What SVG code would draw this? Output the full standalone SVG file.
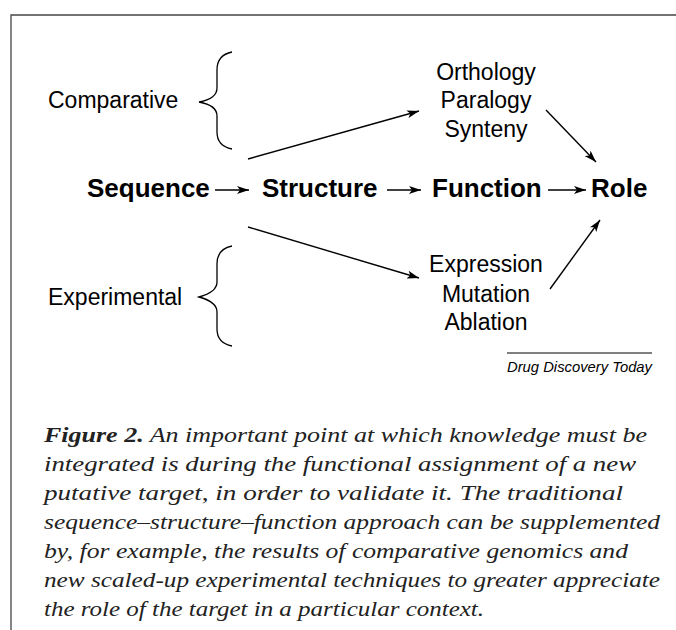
<svg xmlns="http://www.w3.org/2000/svg" width="676" height="630" viewBox="0 0 676 630">
<style>
.lbl{font-family:"Liberation Sans",Arial,sans-serif;font-size:23px;fill:#000}
.main{font-family:"Liberation Sans",Arial,sans-serif;font-size:26px;font-weight:bold;fill:#000}
.ln{stroke:#000;stroke-width:1.4;fill:none}
.br{stroke:#000;stroke-width:1.3;fill:none}
.cap{font-family:"Liberation Serif","Times New Roman",serif;font-size:21px;font-style:italic;fill:#222}
.src{font-family:"Liberation Sans",Arial,sans-serif;font-size:15.5px;font-style:italic;fill:#000}
</style>
<defs>
<marker id="ah" viewBox="0 0 12 8" refX="12" refY="4" markerWidth="12" markerHeight="8" markerUnits="userSpaceOnUse" orient="auto">
<path d="M0,0 L12,4 L0,8 L3,4 Z" fill="#000"/>
</marker>
</defs>
<rect width="676" height="630" fill="#fff"/>
<path d="M11,630 L11,15 L676,15" stroke="#444" stroke-width="1.3" fill="none"/>

<g id="comparative">
<text class="lbl" x="48" y="108">Comparative</text>
<path class="br" d="M232,52 C222,54 217,60 217,70 L217,88 C217,96 210,100 199,102 C210,104 217,108 217,116 L217,132 C217,142 222,147 232,149"/>
</g>
<g id="experimental">
<text class="lbl" x="48" y="305">Experimental</text>
<path class="br" d="M232,246 C222,248 217,254 217,264 L217,282 C217,290 210,294 199,297 C210,300 217,304 217,312 L217,329 C217,339 222,344 232,346"/>
</g>
<g id="sequence"><text class="main" x="87" y="197">Sequence</text></g>
<g id="structure"><text class="main" x="262" y="197">Structure</text></g>
<g id="function"><text class="main" x="432" y="197">Function</text></g>
<g id="role"><text class="main" x="591" y="197">Role</text></g>
<g id="comparative-methods">
<text class="lbl" x="486" y="80" text-anchor="middle">Orthology</text>
<text class="lbl" x="486" y="108" text-anchor="middle">Paralogy</text>
<text class="lbl" x="486" y="137" text-anchor="middle">Synteny</text>
</g>
<g id="experimental-methods">
<text class="lbl" x="486" y="272" text-anchor="middle">Expression</text>
<text class="lbl" x="486" y="302" text-anchor="middle">Mutation</text>
<text class="lbl" x="486" y="330" text-anchor="middle">Ablation</text>
</g>

<g id="connectors">
<line class="ln" x1="215" y1="190" x2="249" y2="190" marker-end="url(#ah)"/>
<line class="ln" x1="387" y1="190" x2="421" y2="190" marker-end="url(#ah)"/>
<line class="ln" x1="548" y1="190" x2="586" y2="190" marker-end="url(#ah)"/>
<line class="ln" x1="248" y1="159" x2="419" y2="111" marker-end="url(#ah)"/>
<line class="ln" x1="248" y1="227" x2="419" y2="278" marker-end="url(#ah)"/>
<line class="ln" x1="546" y1="110" x2="596" y2="162" marker-end="url(#ah)"/>
<line class="ln" x1="550" y1="289" x2="600" y2="220" marker-end="url(#ah)"/>
</g>

<g id="source">
<line x1="507" y1="353" x2="652" y2="353" stroke="#000" stroke-width="1"/>
<text class="src" x="507" y="372" textLength="145" lengthAdjust="spacingAndGlyphs">Drug Discovery Today</text>
</g>

<g id="caption">
<text class="cap" x="44" y="442" textLength="603" lengthAdjust="spacingAndGlyphs"><tspan font-weight="bold">Figure 2.</tspan> An important point at which knowledge must be</text>
<text class="cap" x="44" y="471" textLength="592" lengthAdjust="spacingAndGlyphs">integrated is during the functional assignment of a new</text>
<text class="cap" x="44" y="500" textLength="579" lengthAdjust="spacingAndGlyphs">putative target, in order to validate it. The traditional</text>
<text class="cap" x="44" y="529" textLength="616" lengthAdjust="spacingAndGlyphs">sequence–structure–function approach can be supplemented</text>
<text class="cap" x="44" y="558" textLength="584" lengthAdjust="spacingAndGlyphs">by, for example, the results of comparative genomics and</text>
<text class="cap" x="44" y="587" textLength="616" lengthAdjust="spacingAndGlyphs">new scaled-up experimental techniques to greater appreciate</text>
<text class="cap" x="44" y="616" textLength="440" lengthAdjust="spacingAndGlyphs">the role of the target in a particular context.</text>
</g>
</svg>
